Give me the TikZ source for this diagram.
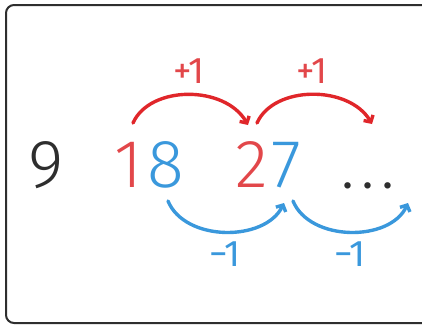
\documentclass[tikz,border=0pt]{standalone}
\usepackage{fontspec}
\setmainfont{Fira Sans Light}
\newfontfamily\labfont{Fira Sans}
\usetikzlibrary{arrows.meta}
\definecolor{myred}{HTML}{E2474A}
\definecolor{arcred}{HTML}{E0262A}
\definecolor{myblue}{HTML}{3A98DC}
\definecolor{mygray}{HTML}{2E2E2E}
\tikzset{
  big/.style={inner sep=0pt, anchor=base, font=\fontsize{68}{70}\selectfont},
  lab/.style={inner sep=0pt, anchor=base, font=\labfont\fontsize{37}{39}\selectfont},
  arc/.style={line width=3.4pt, line cap=round, -{Straight Barb[length=5pt,width=11pt,line width=3.4pt]}},
}
\begin{document}
\begin{tikzpicture}[x=1pt,y=-1pt]
\useasboundingbox (0,0) rectangle (422,325);
\begin{scope}
\clip (0,0) rectangle (422,325);
\draw[line width=2pt, mygray, rounded corners=8pt] (6,5) rectangle (440,323);
\end{scope}
\node[big, text=mygray] (n9) at (46,187) {9};
\node[big, text=myred] (d1) at (129,187) {1};
\node[big, text=myblue] (d8) at (166,187) {8};
\node[big, text=myred] (d2) at (252,187) {2};
\node[big, text=myblue] (d7) at (286,187) {7};
\node[inner sep=0pt, anchor=base, font=\labfont\fontsize{46}{48}\selectfont, text=mygray] (dots) at (368,188) {.\kern9pt.\kern9pt.};
\coordinate (r1s) at (133,123); \coordinate (r1e) at (248,125);
\coordinate (r2s) at (257,123); \coordinate (r2e) at (372,124);
\coordinate (b1s) at (168,201); \coordinate (b1e) at (284,203);
\coordinate (b2s) at (293,201); \coordinate (b2e) at (408,203);
\draw[arc, arcred] (r1s) .. controls (150,85) and (225,85) .. (r1e);
\draw[arc, arcred] (r2s) .. controls (274,85) and (349,85) .. (r2e);
\draw[arc, myblue] (b1s) .. controls (185,242) and (265,242) .. (b1e);
\draw[arc, myblue] (b2s) .. controls (310,242) and (390,242) .. (b2e);
\node[lab, text=myred] (p1) at (189,83) {+1};
\node[lab, text=myred] (p2) at (312,83) {+1};
\node[lab, text=myblue] (m1) at (225,266) {−1};
\node[lab, text=myblue] (m2) at (350,266) {−1};
\end{tikzpicture}
\end{document}
